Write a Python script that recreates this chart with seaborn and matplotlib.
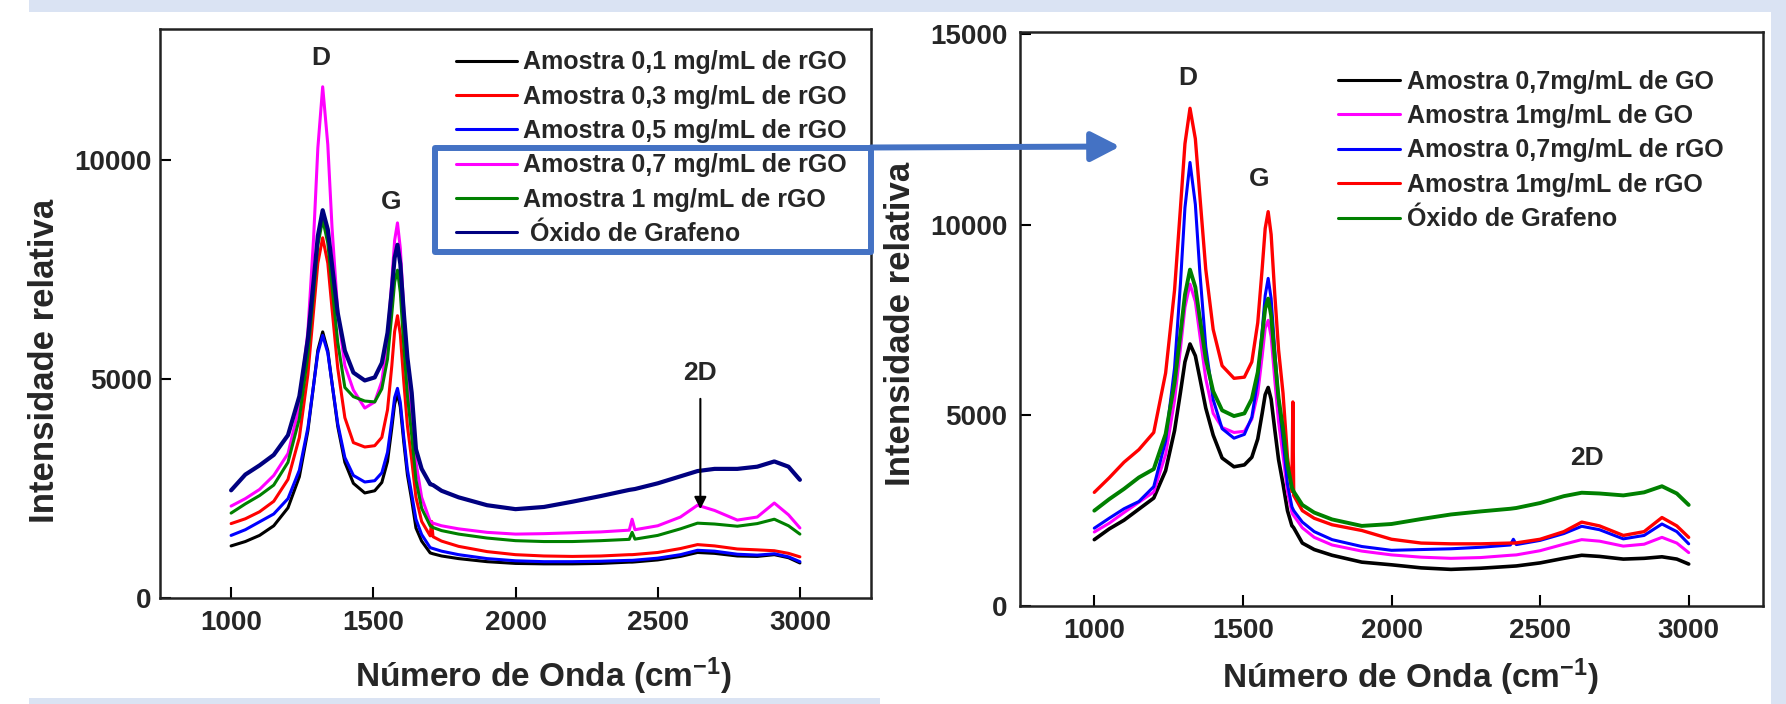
import matplotlib
matplotlib.use('Agg')
import matplotlib.pyplot as plt
import seaborn as sns
import pandas as pd
from matplotlib.patches import Rectangle, FancyArrowPatch

sns.set_theme(style='ticks')
plt.rcParams['font.family'] = ['Liberation Sans', 'DejaVu Sans']
plt.rcParams['font.weight'] = 'bold'
plt.rcParams['mathtext.fontset'] = 'custom'
plt.rcParams['mathtext.rm'] = 'Liberation Sans:bold'
plt.rcParams['mathtext.default'] = 'rm'

# ---------------- left panel (rGO concentrations) ----------------
x_left = [1000, 1050, 1100, 1150, 1200, 1240, 1270, 1290, 1305, 1322,
          1340, 1355, 1375, 1400, 1430, 1470, 1505, 1530, 1550, 1565,
          1575, 1585, 1595, 1607, 1620, 1635, 1650, 1670, 1700, 1705,
          1710, 1740, 1800, 1900, 2000, 2100, 2200, 2300, 2400, 2410,
          2420, 2500, 2580, 2640, 2700, 2780, 2850, 2910, 2960, 3000]

rgo_01 = [1190, 1290, 1430, 1650, 2060, 2770, 3820, 4860, 5660, 6080,
          5650, 4900, 3920, 3100, 2620, 2400, 2450, 2640, 3120, 3880,
          4430, 4670, 4360, 3570, 2810, 2240, 1600, 1300, 1030, 1020,
          1010, 960, 900, 830, 790, 780, 780, 790, 820, 820,
          825, 870, 950, 1040, 1020, 960, 950, 990, 920, 800]
rgo_03 = [1700, 1810, 1970, 2210, 2710, 3670, 5110, 6560, 7650, 8230,
          7650, 6600, 5250, 4120, 3550, 3450, 3480, 3670, 4300, 5300,
          6090, 6450, 6020, 4960, 3930, 3160, 2300, 1750, 1420, 1750,
          1400, 1300, 1180, 1060, 990, 960, 950, 960, 990, 990,
          995, 1040, 1130, 1220, 1190, 1120, 1100, 1080, 1020, 940]
rgo_05 = [1430, 1560, 1740, 1920, 2270, 2920, 3890, 4860, 5600, 6000,
          5600, 4900, 3980, 3210, 2800, 2650, 2680, 2860, 3330, 4050,
          4580, 4790, 4470, 3680, 2930, 2370, 1800, 1450, 1150, 1140,
          1130, 1070, 990, 900, 850, 830, 830, 840, 860, 860,
          865, 910, 990, 1090, 1070, 1000, 980, 1010, 940, 830]
rgo_07 = [2100, 2270, 2480, 2800, 3300, 4380, 6090, 8210, 10280, 11680,
          10360, 8450, 6530, 5310, 4750, 4340, 4480, 4950, 5920, 7230,
          8170, 8570, 7990, 6600, 5210, 4130, 3100, 2300, 1750, 1730,
          1710, 1650, 1580, 1500, 1460, 1470, 1490, 1510, 1550, 1800,
          1560, 1650, 1850, 2120, 2000, 1780, 1850, 2170, 1900, 1600]
rgo_1 = [1940, 2150, 2340, 2580, 3100, 4100, 5560, 6970, 8060, 8650,
         8110, 7120, 5840, 4810, 4600, 4500, 4480, 4780, 5460, 6490,
         7220, 7490, 6980, 5780, 4620, 3720, 2700, 2050, 1650, 1630,
         1610, 1540, 1460, 1370, 1310, 1290, 1290, 1310, 1340, 1500,
         1345, 1430, 1580, 1710, 1690, 1640, 1700, 1800, 1650, 1460]
go_left = [2460, 2820, 3030, 3270, 3720, 4610, 5920, 7240, 8270, 8860,
           8420, 7600, 6510, 5650, 5150, 4970, 5040, 5370, 6060, 7030,
           7770, 8070, 7630, 6540, 5490, 4690, 3400, 2950, 2600, 2590,
           2580, 2450, 2300, 2120, 2030, 2080, 2200, 2330, 2470, 2480,
           2490, 2620, 2780, 2900, 2950, 2950, 3000, 3120, 3000, 2700]

labels_left = ['Amostra 0,1 mg/mL de rGO', 'Amostra 0,3 mg/mL de rGO',
               'Amostra 0,5 mg/mL de rGO', 'Amostra 0,7 mg/mL de rGO',
               'Amostra 1 mg/mL de rGO', ' Óxido de Grafeno']
colors_left = ['#000000', '#ff0000', '#0000ff', '#ff00ff', '#008000', '#000080']

# ---------------- right panel (GO vs rGO) ----------------
x_right = [1000, 1050, 1100, 1150, 1200, 1240, 1270, 1290, 1305, 1322,
           1340, 1355, 1375, 1400, 1430, 1470, 1505, 1530, 1550, 1565,
           1575, 1585, 1595, 1607, 1620, 1635, 1650, 1665, 1668, 1671,
           1700, 1740, 1800, 1900, 2000, 2100, 2200, 2300, 2400, 2410,
           2420, 2500, 2580, 2640, 2700, 2780, 2850, 2910, 2960, 3000]

go_07 = [1740, 2020, 2250, 2540, 2830, 3550, 4600, 5610, 6400, 6870,
         6560, 5980, 5190, 4480, 3880, 3650, 3700, 3900, 4380, 5060,
         5540, 5730, 5420, 4640, 3840, 3200, 2500, 2100, 2080, 2050,
         1650, 1480, 1330, 1150, 1080, 1000, 960, 990, 1040, 1045,
         1050, 1130, 1250, 1330, 1300, 1230, 1250, 1290, 1230, 1100]
go_1 = [1940, 2170, 2450, 2720, 2990, 3970, 5390, 6760, 7830, 8440,
        7980, 7110, 5960, 5050, 4680, 4550, 4580, 4900, 5570, 6560,
        7280, 7490, 7060, 5950, 4820, 3940, 3000, 2450, 2400, 2370,
        2050, 1800, 1600, 1440, 1340, 1280, 1250, 1270, 1330, 1335,
        1340, 1450, 1620, 1740, 1700, 1570, 1620, 1800, 1650, 1400]
rgo_07_b = [2040, 2300, 2550, 2740, 3130, 4330, 6240, 8470, 10440, 11630,
            10530, 8770, 6800, 5410, 4650, 4400, 4500, 4950, 5930, 7220,
            8140, 8590, 8060, 6720, 5390, 4360, 3200, 2600, 2550, 2500,
            2200, 1950, 1740, 1560, 1460, 1480, 1500, 1540, 1600, 1750,
            1610, 1720, 1900, 2090, 2000, 1760, 1850, 2150, 1950, 1630]
rgo_1_b = [2980, 3360, 3770, 4100, 4550, 6110, 8280, 10450, 12120, 13050,
           12250, 10770, 8830, 7250, 6300, 5970, 6000, 6400, 7430, 8860,
           9900, 10340, 9740, 8200, 6720, 5580, 3900, 3000, 5350, 2900,
           2500, 2300, 2130, 1980, 1750, 1650, 1630, 1630, 1650, 1650,
           1655, 1750, 1950, 2200, 2100, 1850, 1950, 2320, 2100, 1800]
go_right = [2500, 2800, 3070, 3370, 3590, 4510, 5850, 7150, 8160, 8820,
            8360, 7550, 6480, 5630, 5130, 4980, 5050, 5430, 6130, 7110,
            7800, 8060, 7620, 6520, 5450, 4640, 3700, 3100, 3050, 3000,
            2650, 2450, 2270, 2100, 2150, 2280, 2400, 2480, 2550, 2560,
            2570, 2700, 2880, 2970, 2950, 2900, 2980, 3140, 2950, 2650]

labels_right = ['Amostra 0,7mg/mL de GO', 'Amostra 1mg/mL de GO',
                'Amostra 0,7mg/mL de rGO', 'Amostra 1mg/mL de rGO',
                'Óxido de Grafeno']
colors_right = ['#000000', '#ff00ff', '#0000ff', '#ff0000', '#008000']

W, H = 1786, 704
BLUE_BOX = '#4472C4'
BG = '#dae3f3'


def long_form(x, series, labels):
    frames = []
    for lab, vals in zip(labels, series):
        frames.append(pd.DataFrame({'x': x, 'y': vals, 'amostra': lab}))
    return pd.concat(frames, ignore_index=True)


def draw_panel(ax, df, labels, colors, widths, ylim, yticks):
    sns.lineplot(data=df, x='x', y='y', hue='amostra', hue_order=labels,
                 palette=dict(zip(labels, colors)), estimator=None,
                 sort=False, linewidth=2.2, legend=False, ax=ax)
    for line, lw in zip(ax.lines, widths):
        line.set_linewidth(lw)
    ax.set_xlim(750, 3250)
    ax.set_ylim(*ylim)
    ax.set_xticks([1000, 1500, 2000, 2500, 3000])
    ax.set_yticks(yticks)
    ax.tick_params(direction='in', length=8, width=1.5, labelsize=20,
                   top=False, right=False, color='black')
    for lab in ax.get_xticklabels() + ax.get_yticklabels():
        lab.set_fontweight('bold')
    for sp in ax.spines.values():
        sp.set_visible(True)
        sp.set_linewidth(1.8)
        sp.set_color('#222222')
    ax.set_xlabel('Número de Onda (cm$^{-1}$)', fontsize=24,
                  fontweight='bold', va='center')
    ax.set_ylabel('Intensidade relativa', fontsize=25, fontweight='bold',
                  va='center')
    ax.set_facecolor('none')


fig = plt.figure(figsize=(W / 100, H / 100), dpi=100)
fig.patch.set_facecolor('white')

# light blue slide background strips
for (x0, y0, w, h) in [(29, 0, W - 29, 12), (1771, 0, 15, H), (29, 698, 851, 6)]:
    fig.add_artist(Rectangle((x0 / 100, (H - y0 - h) / 100), w / 100, h / 100,
                             transform=fig.dpi_scale_trans, facecolor=BG,
                             edgecolor='none', zorder=0))

ax1 = fig.add_axes([160 / W, 1 - 598 / H, (871 - 160) / W, (598 - 29) / H])
ax2 = fig.add_axes([1020 / W, 1 - 606 / H, (1763 - 1020) / W, (606 - 32) / H])

df_left = long_form(x_left, [rgo_01, rgo_03, rgo_05, rgo_07, rgo_1, go_left],
                    labels_left)
draw_panel(ax1, df_left, labels_left, colors_left,
           [2.2, 2.2, 2.2, 2.2, 2.2, 3.0], (0, 13000), [0, 5000, 10000])
ax1.tick_params(axis='y', pad=6)
ax1.tick_params(axis='x', pad=9)
ax1.yaxis.set_label_coords((44 - 160) / 711, 1 - (361 - 29) / 569)
ax1.xaxis.set_label_coords((543 - 160) / 711, -(676 - 598) / 569)

df_right = long_form(x_right, [go_07, go_1, rgo_07_b, rgo_1_b, go_right],
                     labels_right)
draw_panel(ax2, df_right, labels_right, colors_right,
           [2.6, 2.2, 2.2, 2.4, 2.8], (0, 15050), [0, 5000, 10000, 15000])
ax2.tick_params(axis='y', pad=9)
ax2.tick_params(axis='x', pad=9)
ax2.yaxis.set_label_coords((901 - 1020) / 743, 1 - (324 - 32) / 574)
ax2.xaxis.set_label_coords((1410 - 1020) / 743, -(677 - 606) / 574)

# legends
ax1.legend(ax1.lines, labels_left, loc='upper left',
           bbox_to_anchor=(456 / W, 1 - 50.5 / H), bbox_transform=fig.transFigure,
           frameon=False, prop={'size': 18, 'weight': 'bold'},
           handlelength=2.44, handletextpad=0.24, labelspacing=0.41,
           borderpad=0, borderaxespad=0)
ax2.legend(ax2.lines, labels_right, loc='upper left',
           bbox_to_anchor=(1338 / W, 1 - 69.5 / H), bbox_transform=fig.transFigure,
           frameon=False, prop={'size': 18, 'weight': 'bold'},
           handlelength=2.48, handletextpad=0.28, labelspacing=0.42,
           borderpad=0, borderaxespad=0)
for leg in (ax1.get_legend(), ax2.get_legend()):
    for h in leg.get_lines():
        h.set_linewidth(2.2)

# peak labels
ax1.text(1315, 12330, 'D', ha='center', va='center', fontsize=19, fontweight='bold')
ax1.text(1562, 9050, 'G', ha='center', va='center', fontsize=19, fontweight='bold')
ax1.text(2650, 5150, '2D', ha='center', va='center', fontsize=19, fontweight='bold')
ax1.annotate('', xy=(2650, 2030), xytext=(2650, 4550),
             arrowprops=dict(arrowstyle='-|>', color='black', lw=1.5,
                             mutation_scale=18, shrinkA=0, shrinkB=0))
ax2.text(1315, 13850, 'D', ha='center', va='center', fontsize=19, fontweight='bold')
ax2.text(1555, 11200, 'G', ha='center', va='center', fontsize=19, fontweight='bold')
ax2.text(2657, 3870, '2D', ha='center', va='center', fontsize=19, fontweight='bold')

# highlight box and arrow linking the panels
fig.add_artist(Rectangle((435 / 100, (H - 252) / 100), (871 - 435) / 100,
                         (252 - 147.5) / 100, transform=fig.dpi_scale_trans,
                         facecolor='none', edgecolor=BLUE_BOX, linewidth=4.3,
                         joinstyle='round', zorder=10))
fig.add_artist(FancyArrowPatch((871 / 100, (H - 147.5) / 100),
                               (1120 / 100, (H - 146.5) / 100),
                               transform=fig.dpi_scale_trans,
                               arrowstyle='-|>,head_length=1.75,head_width=0.9',
                               mutation_scale=10, color=BLUE_BOX, linewidth=4.3,
                               shrinkA=0, shrinkB=0, zorder=10))

fig.savefig('out.png', dpi=100)
